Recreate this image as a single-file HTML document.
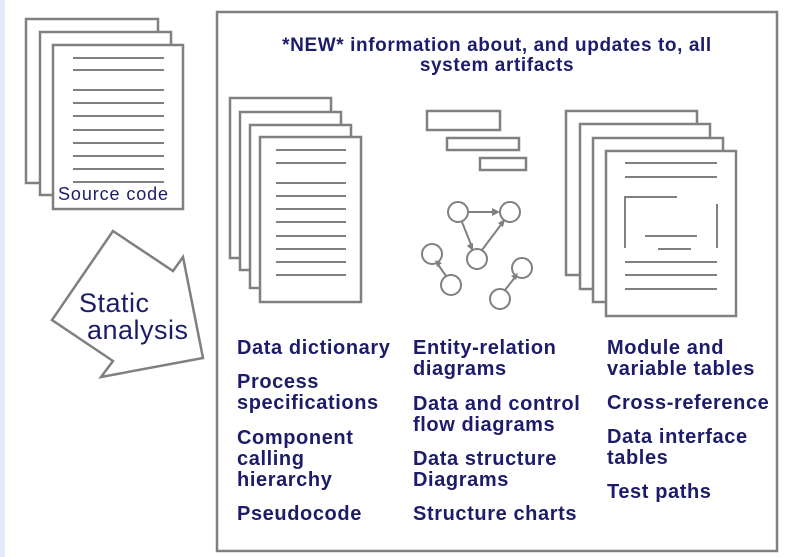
<!DOCTYPE html>
<html><head><meta charset="utf-8"><style>
body{margin:0;width:791px;height:557px;background:#fff;overflow:hidden;font-family:"Liberation Sans",Arial,sans-serif}
.t{position:absolute;font-weight:bold;color:#1c1c6a;font-size:20px;letter-spacing:0.6px;line-height:21px;white-space:nowrap}
</style></head><body>
<div style="position:absolute;left:0;top:0;width:5px;height:557px;background:#e2ecf9"></div>
<svg width="791" height="557" style="position:absolute;left:0;top:0" fill="#fff" stroke="#808080" stroke-width="2.5">
<rect x="217" y="12" width="560" height="539" stroke-width="2.5"/>
<rect x="26" y="19" width="132" height="164"/>
<rect x="40" y="32" width="131" height="163"/>
<rect x="53" y="45" width="130" height="164"/>
<path stroke-width="2" d="M73 58H164M73 70H164M73 90H164M73 103H164M73 116H164M73 130H164M73 143H164M73 156H164M73 169H164M73 182H164"/>
<rect x="230" y="98" width="101" height="160"/>
<rect x="240" y="112" width="101" height="158"/>
<rect x="250" y="125" width="101" height="163"/>
<rect x="260" y="137" width="101" height="165"/>
<path stroke-width="2" d="M276 150H346M276 163H346M276 183H346M276 196H346M276 209H346M276 222H346M276 236H346M276 249H346M276 262H346M276 275H346"/>
<rect x="427" y="111" width="73" height="19"/>
<rect x="447" y="138" width="72" height="12"/>
<rect x="480" y="158" width="46" height="12"/>
<g stroke-width="2">
<circle cx="458" cy="212" r="10"/><circle cx="510" cy="212" r="10"/><circle cx="477" cy="259" r="10"/>
<circle cx="432" cy="254" r="10"/><circle cx="451" cy="285" r="10"/><circle cx="522" cy="268" r="10"/><circle cx="500" cy="299" r="10"/>
<path d="M468 212H496M462 222L472 247M482 250L503 222M446 276L437 263M505 290L516 276" fill="none"/>
</g>
<g fill="#808080" stroke="none">
<path d="M500 212l-8-4v8z"/><path d="M473 251l-6-5l1-1 5-2z"/><path d="M505 219l-7 4l5 4z"/>
<path d="M435 260l7 3-5 4z"/><path d="M518 273l-7 3 5 4z"/>
</g>
<rect x="566" y="111" width="131" height="164"/>
<rect x="580" y="124" width="130" height="165"/>
<rect x="593" y="138" width="130" height="164"/>
<rect x="606" y="151" width="130" height="165"/>
<path stroke-width="2" fill="none" d="M625 163H717M625 177H717M677 197H625V248M717 204V248M645 236H697M658 249H691M625 262H717M625 275H717M625 289H717"/>
<polygon points="113,231 173,271 183,257 203,358 101,377 113,361 52,320"/>
</svg>
<div style="position:absolute;left:56px;top:184px;font-size:18px;letter-spacing:0.9px;color:#1c1c6a;background:#fff;padding:0 2px">Source code</div>
<div style="position:absolute;left:79px;top:289px;font-size:27px;letter-spacing:0.5px;color:#1c1c6a;line-height:28px">Static</div>
<div style="position:absolute;left:87px;top:316px;font-size:27px;letter-spacing:0.5px;color:#1c1c6a;line-height:28px">analysis</div>
<div class="t" style="left:217px;width:560px;top:36px;text-align:center;font-size:19px;letter-spacing:0.6px;line-height:20px">*NEW* information about, and updates to, all<br>system artifacts</div>
<div class="t" style="left:237px;top:338px">Data dictionary</div>
<div class="t" style="left:237px;top:372px">Process<br>specifications</div>
<div class="t" style="left:237px;top:428px">Component<br>calling<br>hierarchy</div>
<div class="t" style="left:237px;top:504px">Pseudocode</div>
<div class="t" style="left:413px;top:338px">Entity-relation<br>diagrams</div>
<div class="t" style="left:413px;top:394px">Data and control<br>flow diagrams</div>
<div class="t" style="left:413px;top:449px">Data structure<br>Diagrams</div>
<div class="t" style="left:413px;top:504px">Structure charts</div>
<div class="t" style="left:607px;top:338px">Module and<br>variable tables</div>
<div class="t" style="left:607px;top:393px">Cross-reference</div>
<div class="t" style="left:607px;top:427px">Data interface<br>tables</div>
<div class="t" style="left:607px;top:482px">Test paths</div>
</body></html>
